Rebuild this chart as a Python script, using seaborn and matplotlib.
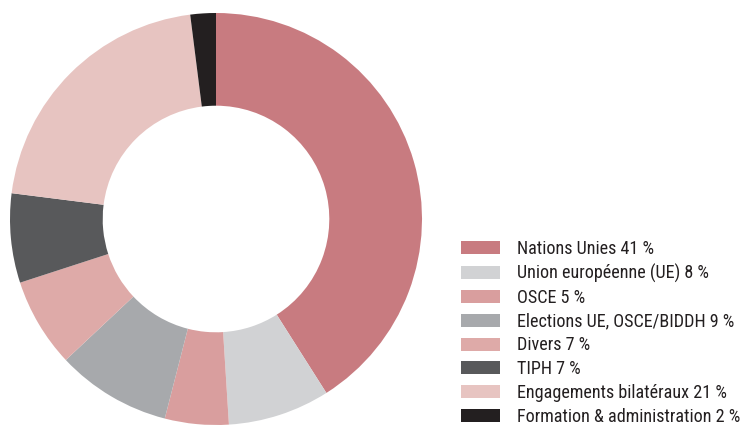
import matplotlib
matplotlib.use("Agg")
import matplotlib.pyplot as plt
from matplotlib import font_manager
import seaborn as sns

# données
labels = ["Nations Unies 41 %", "Union européenne (UE) 8 %", "OSCE 5 %",
          "Elections UE, OSCE/BIDDH 9 %", "Divers 7 %", "TIPH 7 %",
          "Engagements bilatéraux 21 %", "Formation & administration 2 %"]
values = [41, 8, 5, 9, 7, 7, 21, 2]
colors = ["#C87B80", "#D1D2D4", "#D99E9E", "#A7A9AC",
          "#DEAAA8", "#58595B", "#E7C4C1", "#231F20"]

sns.set_theme(style="white")
installed = {f.name for f in font_manager.fontManager.ttflist}
fams = [f for f in ['Roboto Condensed', 'Liberation Sans Narrow',
                    'DejaVu Sans Condensed'] if f in installed] + ['DejaVu Sans']
plt.rcParams['font.family'] = fams

fig = plt.figure(figsize=(7.41, 4.28), dpi=100)
ax = fig.add_axes([10 / 741, 3 / 428, 412 / 741, 412 / 428])

wedges, _ = ax.pie(values, colors=colors, startangle=90, counterclock=False,
                   radius=1, wedgeprops=dict(width=0.45, linewidth=0))
ax.set_xlim(-1, 1)
ax.set_ylim(-1, 1)
ax.set_aspect('equal')
ax.axis('off')

fs = 13.1 if fams[0] != 'DejaVu Sans' else 10
px = fs * 100 / 72
fig.legend(wedges, labels, loc='center left',
           bbox_to_anchor=(461 / 741, 0.222), frameon=False,
           fontsize=fs, handlelength=39 / px, handleheight=13 / px,
           handletextpad=17 / px, labelspacing=0.317, borderpad=0,
           borderaxespad=0, labelcolor='#231F20')

fig.savefig("out.png", dpi=100)
